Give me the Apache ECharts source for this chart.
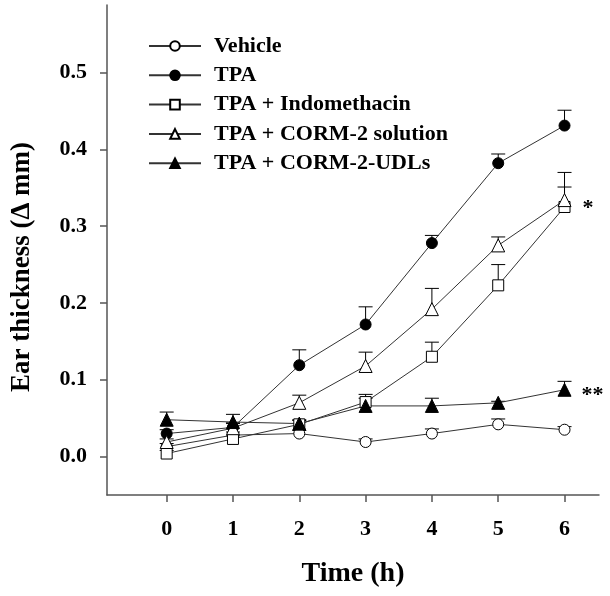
<!DOCTYPE html>
<html>
<head>
<meta charset="utf-8">
<script src="https://cdn.jsdelivr.net/npm/echarts@6/dist/echarts.min.js"></script>
<style>html,body{margin:0;padding:0;background:#fff}#c{width:610px;height:596px}</style>
</head>
<body>
<div id="c"></div>
<script>
const hours = [0, 1, 2, 3, 4, 5, 6];
const xTicks = [0, 1, 2, 3, 4, 5, 6];
const yTicks = [0, 0.1, 0.2, 0.3, 0.4, 0.5];
const seriesNames = ['Vehicle', 'TPA', 'TPA + Indomethacin', 'TPA + CORM-2 solution', 'TPA + CORM-2-UDLs'];
const vehicle = [0.013, 0.028, 0.030, 0.019, 0.030, 0.042, 0.035];
const vehicleErr = [0.004, 0.004, 0.004, 0.004, 0.006, 0.007, 0.004];
const tpa = [0.030, 0.038, 0.119, 0.172, 0.278, 0.382, 0.431];
const tpaErr = [0.005, 0.006, 0.020, 0.023, 0.010, 0.012, 0.020];
const indo = [0.004, 0.023, 0.042, 0.071, 0.130, 0.223, 0.325];
const indoErr = [0.004, 0.004, 0.005, 0.010, 0.019, 0.027, 0.026];
const cormSol = [0.019, 0.037, 0.070, 0.118, 0.192, 0.275, 0.334];
const cormSolErr = [0.004, 0.006, 0.010, 0.018, 0.027, 0.011, 0.036];
const udls = [0.048, 0.045, 0.043, 0.066, 0.066, 0.070, 0.087];
const udlsErr = [0.010, 0.010, 0.005, 0.010, 0.010, 0.002, 0.011];
const annotations = ['*', '**']; // cormSol at 6h, udls at 6h
const xTitle = 'Time (h)';
const yTitle = 'Ear thickness (\u0394 mm)';

const chart = echarts.init(document.getElementById('c'), null, {renderer: 'canvas'});
const font = '"Liberation Serif", "Times New Roman", serif';
const lineColor = '#333';

const styles = [
  {symbol: 'circle', fill: '#fff', size: 11},
  {symbol: 'circle', fill: '#000', size: 11},
  {symbol: 'rect', fill: '#fff', size: 11},
  {symbol: 'triangle', fill: '#fff', size: 13},
  {symbol: 'triangle', fill: '#000', size: 13}
];
const vals = [vehicle, tpa, indo, cormSol, udls];
const errs = [vehicleErr, tpaErr, indoErr, cormSolErr, udlsErr];

const series = [];
vals.forEach((v, i) => {
  series.push({
    type: 'custom',
    name: seriesNames[i] + ' err',
    z: 1,
    silent: true,
    data: hours.map((h, k) => [h, v[k], errs[i][k]]),
    renderItem: function (params, api) {
      const x = api.value(0), y = api.value(1), e = api.value(2);
      const p0 = api.coord([x, y]);
      const p1 = api.coord([x, y + e]);
      const hw = 7;
      return {
        type: 'group',
        children: [
          {type: 'line', shape: {x1: p0[0], y1: p0[1], x2: p1[0], y2: p1[1]}, style: {stroke: '#000', lineWidth: 1}},
          {type: 'line', shape: {x1: p1[0] - hw, y1: p1[1], x2: p1[0] + hw, y2: p1[1]}, style: {stroke: '#000', lineWidth: 1}}
        ]
      };
    }
  });
});
vals.forEach((v, i) => {
  const data = hours.map((h, k) => [h, v[k]]);
  const s = {
    type: 'line',
    name: seriesNames[i],
    z: 3,
    data: data,
    symbol: styles[i].symbol,
    symbolSize: styles[i].size,
    showAllSymbol: true,
    animation: false,
    lineStyle: {color: lineColor, width: 1},
    itemStyle: {color: styles[i].fill, borderColor: '#000', borderWidth: 1},
    emphasis: {disabled: true}
  };
  if (i === 3 || i === 4) {
    const txt = i === 3 ? annotations[0] : annotations[1];
    s.data = data.map((d, k) => k === 6 ? {value: d, label: {show: true, formatter: txt, position: 'right', distance: i === 3 ? 11 : 10, offset: i === 3 ? [0, 8] : [0, 6], color: '#000', fontFamily: font, fontWeight: 'bold', fontSize: 22}} : d);
  }
  series.push(s);
});

chart.setOption({
  animation: false,
  backgroundColor: '#fff',
  grid: {left: 107, top: 5, right: 11, bottom: 101, containLabel: false},
  legend: {
    data: seriesNames,
    orient: 'vertical',
    left: 148, top: 35, padding: 0,
    itemWidth: 52, itemHeight: 12, itemGap: 7.3,
    textStyle: {fontFamily: font, fontWeight: 'bold', fontSize: 22, color: '#000', lineHeight: 22, padding: [0, 0, 0, 8]},
    selectedMode: false
  },
  graphic: [{
    type: 'text', x: 22, y: 267, rotation: Math.PI / 2,
    style: {text: yTitle, font: 'bold 27px ' + font, fill: '#000', align: 'center', verticalAlign: 'middle'}
  }],
  xAxis: {
    type: 'value', min: -0.9, max: 6.52,
    name: xTitle, nameLocation: 'middle', nameGap: 65,
    nameTextStyle: {fontFamily: font, fontWeight: 'bold', fontSize: 28, color: '#000'},
    axisLine: {show: true, onZero: false, lineStyle: {color: '#555', width: 1.5}},
    axisTick: {show: true, customValues: xTicks, length: 7, lineStyle: {color: '#555', width: 1.5}},
    axisLabel: {customValues: xTicks, margin: 23, fontFamily: font, fontWeight: 'bold', fontSize: 22, color: '#000'},
    splitLine: {show: false}
  },
  yAxis: {
    type: 'value', min: -0.05, max: 0.588,
    axisLine: {show: true, onZero: false, lineStyle: {color: '#555', width: 1.5}},
    axisTick: {show: true, customValues: yTicks, length: 7, lineStyle: {color: '#555', width: 1.5}},
    axisLabel: {customValues: yTicks, margin: 20, fontFamily: font, fontWeight: 'bold', fontSize: 22, color: '#000', formatter: v => v.toFixed(1)},
    splitLine: {show: false}
  },
  series: series
});
</script>
</body>
</html>
